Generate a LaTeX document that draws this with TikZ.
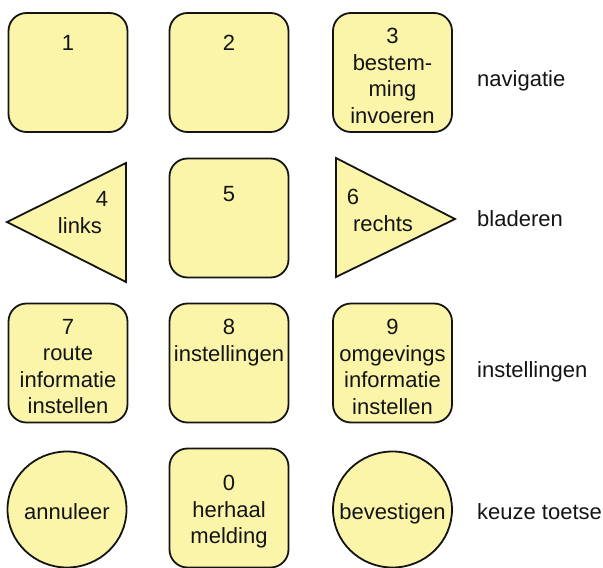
\documentclass[tikz,border=0pt]{standalone}
\usepackage{fontspec}
\setmainfont{Liberation Sans}
\usetikzlibrary{shapes.geometric}
\definecolor{keyfill}{RGB}{251,245,170}
\definecolor{ink}{RGB}{20,20,20}
\newcommand{\keyfont}{\fontsize{22}{26.5}\selectfont}
\tikzset{
  keybox/.style={draw=ink, line width=1.8pt, fill=keyfill, rounded corners=18pt,
    minimum width=119pt, minimum height=119pt, inner sep=0pt},
  keyround/.style={draw=ink, line width=1.8pt, fill=keyfill, ellipse,
    minimum width=119pt, minimum height=116pt, inner sep=0pt},
  keytri/.style={draw=ink, line width=1.8pt, fill=keyfill, line join=miter},
  keytxt/.style={font=\keyfont, text=ink, align=center, inner sep=0pt, anchor=north},
  basetxt/.style={font=\keyfont, text=ink, inner sep=0pt, anchor=base},
  sidetxt/.style={font=\keyfont, text=ink, inner sep=0pt, anchor=base west}
}
\begin{document}
\begin{tikzpicture}[x=1pt,y=-1pt]
\useasboundingbox (0,0) rectangle (603,568);
% row 1
\node[keybox] (k1) at (68,72.5) {};
\node[keybox] (k2) at (229,72.5) {};
\node[keybox] (k3) at (392.5,72.5) {};
\node[keytxt] (t1) at (68,35) {1};
\node[keytxt] (t2) at (229,35) {2};
\node[keytxt] (t3) at (392.5,28) {3\\bestem-\\ming\\invoeren};
\node[sidetxt] (l1) at (477,86) {navigatie};
% row 2
\coordinate (a4) at (7,222);
\coordinate (b4) at (126,163);
\coordinate (c4) at (126,282);
\draw[keytri] (a4) -- (b4) -- (c4) -- cycle;
\node[basetxt] (t4a) at (102,206.5) {4};
\node[basetxt] (t4b) at (80,233.5) {links};
\node[keybox] (k5) at (229,218) {};
\node[keytxt] (t5) at (229,186) {5};
\coordinate (a6) at (336,158);
\coordinate (b6) at (336,277);
\coordinate (c6) at (455,219);
\draw[keytri] (a6) -- (b6) -- (c6) -- cycle;
\node[basetxt] (t6a) at (353,204.5) {6};
\node[basetxt] (t6b) at (383,231) {rechts};
\node[sidetxt] (l2) at (477,226) {bladeren};
% row 3
\node[keybox] (k7) at (68,363) {};
\node[keybox] (k8) at (229,363) {};
\node[keybox] (k9) at (392.5,363) {};
\node[keytxt] (t7) at (68,319) {7\\route\\informatie\\instellen};
\node[keytxt] (t8) at (229,319) {8\\instellingen};
\node[keytxt] (t9) at (392.5,319) {9\\omgevings\\informatie\\instellen};
\node[sidetxt] (l3) at (477,377) {instellingen};
% row 4
\node[keyround] (c1) at (67,509.5) {};
\node[keybox] (k0) at (229,508) {};
\node[keyround] (c2) at (392.5,509.5) {};
\node[basetxt] (tc1) at (67,519) {annuleer};
\node[keytxt] (t0) at (229,475) {0\\herhaal\\melding};
\node[basetxt] (tc2) at (392.5,519) {bevestigen};
\node[sidetxt] (l4) at (477,519) {keuze toetse};
\end{tikzpicture}
\end{document}
